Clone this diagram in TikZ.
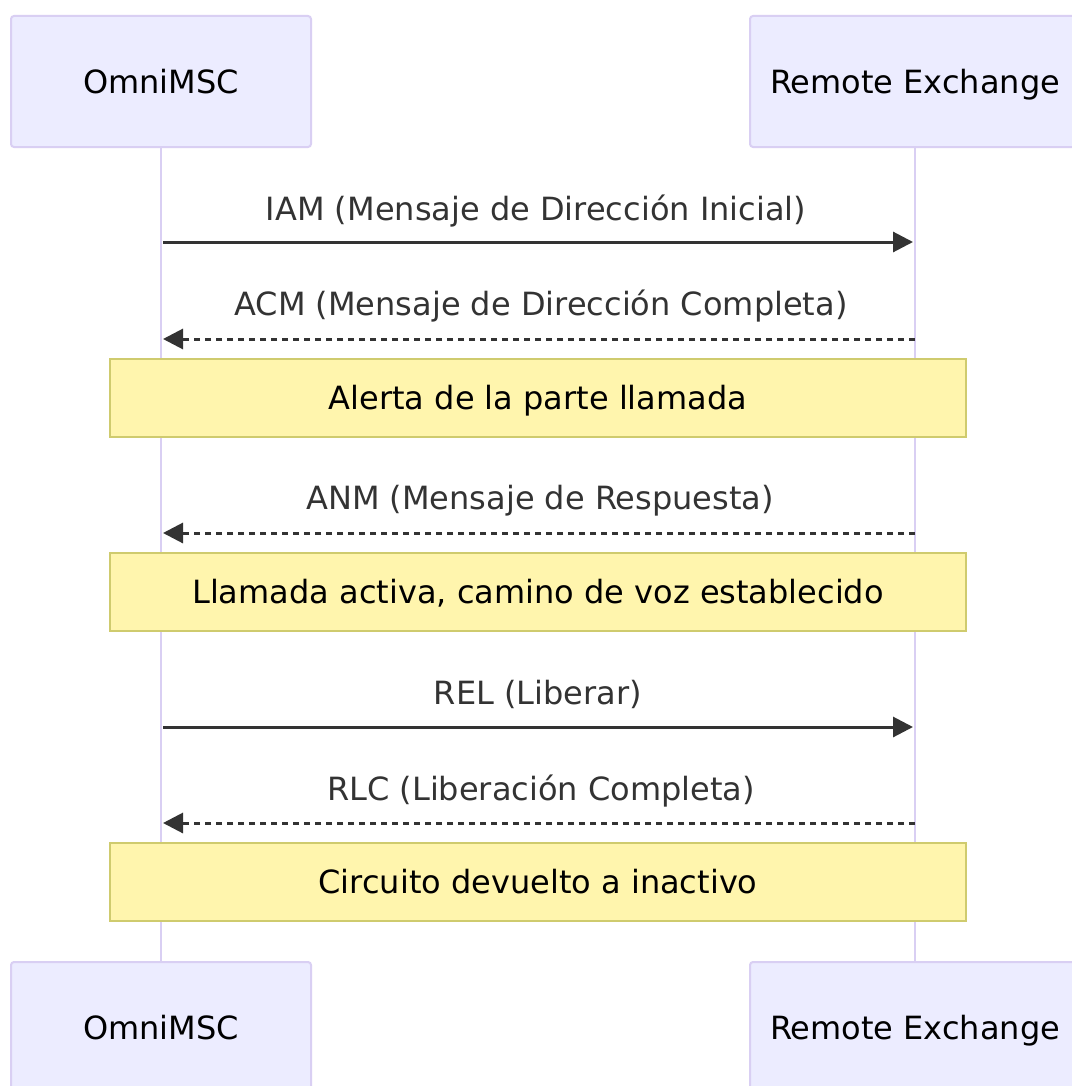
\documentclass[tikz,border=0pt]{standalone}
\usepackage{fontspec}
\setmainfont{DejaVu Sans}
\usetikzlibrary{arrows.meta}
\definecolor{actorfill}{HTML}{ECECFF}
\definecolor{actorline}{HTML}{D9CFF3}
\definecolor{notefill}{HTML}{FFF5AD}
\definecolor{noteline}{HTML}{CFCB6E}
\definecolor{msgcol}{HTML}{333333}
\begin{document}
\begin{tikzpicture}[x=0.5pt,y=-0.5pt,
  actor/.style={draw=actorline, fill=actorfill, line width=1pt, rounded corners=1.5pt,
    minimum height=65.5pt, inner sep=0pt, text height=11.66pt, text depth=0pt,
    font=\fontsize{16}{19}\selectfont, text=black},
  lifeline/.style={draw=actorline, line width=1pt},
  notebox/.style={draw=noteline, fill=notefill, line width=1pt, minimum width=428pt,
    minimum height=39pt, inner sep=0pt, text height=11.66pt, text depth=0pt,
    font=\fontsize{16}{19}\selectfont, text=black},
  lbl/.style={anchor=base, inner sep=0pt, font=\fontsize{16}{19}\selectfont, text=msgcol},
  solidmsg/.style={draw=msgcol, line width=1.5pt, -{Triangle[length=10pt,width=10pt]}},
  dashmsg/.style={draw=msgcol, line width=1.5pt, dash pattern=on 3pt off 2.5pt,
    -{Triangle[length=10pt,width=10pt]}}
]
\useasboundingbox[fill=white] (0,0) rectangle (1071,1086);
% actors
\node[actor, minimum width=150pt] (a1) at (161,81.5) {OmniMSC};
\node[actor, minimum width=165pt] (b1) at (915,81.5) {Remote Exchange};
\node[actor, minimum width=150pt] (a2) at (161,1027.5) {OmniMSC};
\node[actor, minimum width=165pt] (b2) at (915,1027.5) {Remote Exchange};
% lifelines
\draw[lifeline] (a1) -- (a2);
\draw[lifeline] (b1) -- (b2);
% message endpoints
\coordinate (m1s) at (163,242); \coordinate (m1e) at (913,242);
\coordinate (m2s) at (915,339); \coordinate (m2e) at (163,339);
\coordinate (m3s) at (915,533); \coordinate (m3e) at (163,533);
\coordinate (m4s) at (163,727); \coordinate (m4e) at (913,727);
\coordinate (m5s) at (915,823); \coordinate (m5e) at (163,823);
% messages
\node[lbl] (l1) at (536,220) {IAM (Mensaje de Dirección Inicial)};
\draw[solidmsg] (m1s) -- (m1e);
\node[lbl] (l2) at (541,315) {ACM (Mensaje de Dirección Completa)};
\draw[dashmsg] (m2s) -- (m2e);
\node[notebox] (n1) at (538,398) {Alerta de la parte llamada};
\node[lbl] (l3) at (540,509) {ANM (Mensaje de Respuesta)};
\draw[dashmsg] (m3s) -- (m3e);
\node[notebox] (n2) at (538,592) {Llamada activa, camino de voz establecido};
\node[lbl] (l4) at (538,704) {REL (Liberar)};
\draw[solidmsg] (m4s) -- (m4e);
\node[lbl] (l5) at (541,800) {RLC (Liberación Completa)};
\draw[dashmsg] (m5s) -- (m5e);
\node[notebox] (n3) at (538,881.5) {Circuito devuelto a inactivo};
\end{tikzpicture}
\end{document}
